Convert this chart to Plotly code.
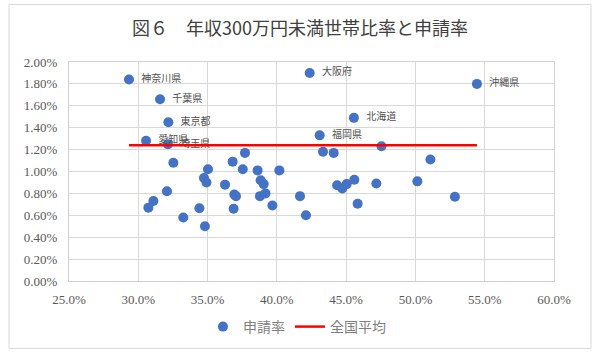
import plotly.graph_objects as go

# 年収300万円未満世帯比率 (%) and 申請率 (%)
names = ["神奈川県", "千葉県", "東京都", "愛知県", "埼玉県", "大阪府", "沖縄県", "北海道", "福岡県",
         "", "", "", "", "", "", "", "", "", "",
         "", "", "", "", "", "", "", "", "", "",
         "", "", "", "", "", "", "", "", "", "",
         "", "", "", "", "", "", "", ""]
ratio = [29.33, 31.57, 32.17, 30.56, 32.14, 42.37, 54.44, 45.56, 43.09,
         32.53, 32.07, 35.03, 36.81, 37.70, 37.54, 38.61, 40.18, 34.74, 34.92,
         36.26, 38.83, 39.05, 36.93, 37.05, 38.78, 39.18, 41.67, 31.09, 30.73,
         34.41, 36.88, 39.68, 42.10, 33.25, 34.81, 43.33, 44.10, 47.55, 51.08,
         44.35, 44.72, 45.04, 45.59, 47.18, 50.14, 45.83, 52.85]
rate = [1.84, 1.66, 1.45, 1.28, 1.25, 1.90, 1.80, 1.49, 1.33,
        1.08, 0.82, 1.02, 1.09, 1.17, 1.02, 1.01, 1.01, 0.94, 0.90,
        0.88, 0.92, 0.885, 0.79, 0.775, 0.775, 0.80, 0.775, 0.73, 0.67,
        0.665, 0.66, 0.69, 0.60, 0.58, 0.50, 1.18, 1.17, 1.23, 1.11,
        0.875, 0.845, 0.885, 0.925, 0.89, 0.91, 0.705, 0.77]
avg_x = [29.33, 54.44]
avg_y = [1.24, 1.24]

fig = go.Figure()
fig.add_trace(go.Scatter(
    x=ratio, y=rate, mode="markers+text", name="申請率",
    text=names, texttemplate="\u2002%{text}", textposition="middle right",
    textfont=dict(family="Noto Sans CJK JP", size=10, color="#505050"),
    marker=dict(color="#4472C4", size=10),
))
fig.add_trace(go.Scatter(
    x=avg_x, y=avg_y, mode="lines", name="全国平均",
    line=dict(color="#FF0000", width=2.5),
))

L, R, T, B = 69, 46, 62, 72
PW, PH = 600 - L - R, 355 - T - B
fig.add_shape(type="rect", xref="paper", yref="paper",
              x0=(9 - L) / PW, x1=(591 - L) / PW,
              y0=(355 - B - 351) / PH, y1=(355 - B - 4) / PH,
              line=dict(color="#d9d9d9", width=1), layer="below")

tickfont = dict(family="Liberation Serif", size=13, color="#595959")
fig.update_layout(
    width=600, height=355,
    margin=dict(l=L, r=R, t=T, b=B),
    paper_bgcolor="white", plot_bgcolor="white",
    title=dict(text="図６　年収300万円未満世帯比率と申請率", x=0.5, xref="container",
               xanchor="center", y=0.918, yanchor="middle",
               font=dict(family="Noto Sans CJK JP", size=18, color="#404040")),
    xaxis=dict(range=[25, 60], dtick=5, tickformat=".1f", ticksuffix="%",
               showgrid=True, gridcolor="#d9d9d9", gridwidth=1,
               showline=True, mirror=True, linecolor="#d0d0d0",
               zeroline=False, tickfont=tickfont, ticklabelstandoff=6),
    yaxis=dict(range=[0, 2], dtick=0.2, tickformat=".2f", ticksuffix="%",
               showgrid=True, gridcolor="#d9d9d9", gridwidth=1,
               showline=True, mirror=True, linecolor="#d0d0d0",
               zeroline=False, tickfont=tickfont, ticklabelstandoff=8),
    legend=dict(orientation="h", x=0.47, xanchor="center", y=-0.21, yanchor="middle",
                font=dict(family="Noto Sans CJK JP", size=14, color="#7f7f7f")),
)

fig.write_html("out.html", config={"displayModeBar": False},
               post_script="document.body.style.margin='0px';")
